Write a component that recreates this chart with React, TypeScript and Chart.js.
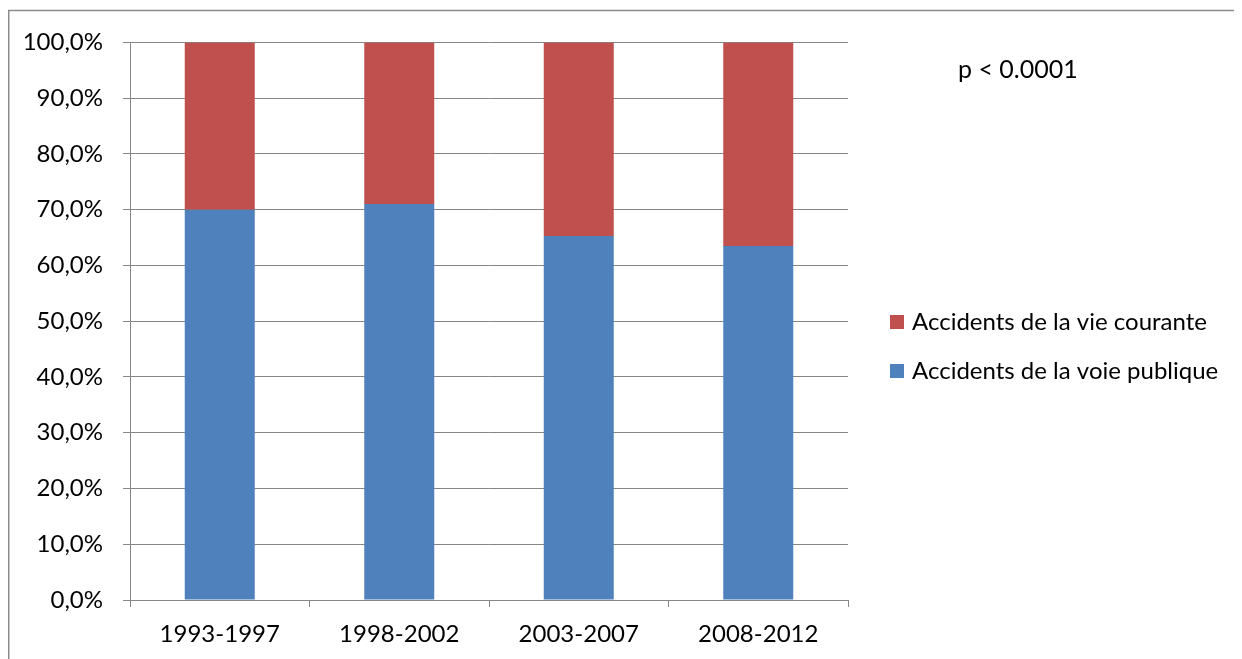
import React, { useEffect, useRef } from "react";
import { Chart, registerables } from "chart.js";

Chart.register(...registerables);

const categories = ["1993-1997", "1998-2002", "2003-2007", "2008-2012"];
const voiePublique = [70.0, 71.0, 65.3, 63.5];
const vieCourante = [30.0, 29.0, 34.7, 36.5];
const seriesNames = ["Accidents de la voie publique", "Accidents de la vie courante"];
const seriesColors = ["#4F81BD", "#C0504D"];
const annotation = "p < 0.0001";

const FONT = "Lato";
const FONT_SIZE = 24;
const GRID = "#868686";

const W = 1234;
const H = 651;

const decorPlugin = {
  id: "decor",
  afterDraw(chart: any) {
    const ctx = chart.ctx;
    ctx.save();
    // outer frame
    ctx.strokeStyle = "#8c8c8c";
    ctx.lineWidth = 1.5;
    ctx.beginPath();
    ctx.moveTo(0.75, H);
    ctx.lineTo(0.75, 2.5);
    ctx.lineTo(W, 2.5);
    ctx.stroke();

    // annotation
    ctx.fillStyle = "#000";
    ctx.font = `25px ${FONT}`;
    ctx.textAlign = "left";
    ctx.textBaseline = "middle";
    ctx.fillText(annotation, 950, 62);

    // legend (reverse order, like Excel)
    ctx.font = `${FONT_SIZE}px ${FONT}`;
    const items = chart.data.datasets
      .map((d: any) => ({ label: d.label, color: d.backgroundColor }))
      .reverse();
    const x0 = 882;
    const y0 = 307;
    const step = 49;
    items.forEach((it: any, i: number) => {
      const y = y0 + i * step;
      ctx.fillStyle = it.color;
      ctx.fillRect(x0, y, 14, 14);
      ctx.fillStyle = "#000";
      ctx.textBaseline = "middle";
      ctx.fillText(it.label, x0 + 22, y + 7);
    });
    ctx.restore();
  },
};

export default function App() {
  const ref = useRef<HTMLCanvasElement | null>(null);
  useEffect(() => {
    if (!ref.current) return;
    const chart = new Chart(ref.current, {
      type: "bar",
      data: {
        labels: categories,
        datasets: [
          {
            label: seriesNames[0],
            data: voiePublique,
            backgroundColor: seriesColors[0],
            borderWidth: 0,
          },
          {
            label: seriesNames[1],
            data: vieCourante,
            backgroundColor: seriesColors[1],
            borderWidth: 0,
          },
        ],
      },
      options: {
        animation: false,
        responsive: false,
        devicePixelRatio: 1,
        layout: { padding: { left: 0, top: 32, right: 394, bottom: 0 } },
        datasets: { bar: { categoryPercentage: 1, barPercentage: 0.39 } },
        plugins: {
          legend: { display: false },
          tooltip: { enabled: false },
        },
        scales: {
          x: {
            stacked: true,
            offset: true,
            grid: {
              offset: true,
              drawOnChartArea: false,
              drawTicks: true,
              tickLength: 7,
              color: GRID,
              lineWidth: 1,
            },
            border: { display: true, color: GRID, width: 1 },
            ticks: {
              color: "#000",
              font: { family: FONT, size: FONT_SIZE },
              padding: 13,
              maxRotation: 0,
            },
            afterFit: (s: any) => {
              s.height = 59;
            },
          },
          y: {
            stacked: true,
            min: 0,
            max: 100,
            grid: {
              color: GRID,
              tickLength: 7,
              lineWidth: 1,
            },
            border: { display: true, color: GRID, width: 1 },
            ticks: {
              stepSize: 10,
              color: "#000",
              font: { family: FONT, size: FONT_SIZE },
              padding: 20,
              callback: (v: any) => Number(v).toFixed(1).replace(".", ",") + "%",
            },
            afterFit: (s: any) => {
              s.width = 122;
            },
          },
        },
      },
      plugins: [decorPlugin],
    });
    return () => chart.destroy();
  }, []);
  return (
    <div style={{ width: W, height: H }}>
      <canvas ref={ref} width={W} height={H} style={{ display: "block", width: W, height: H }} />
    </div>
  );
}
